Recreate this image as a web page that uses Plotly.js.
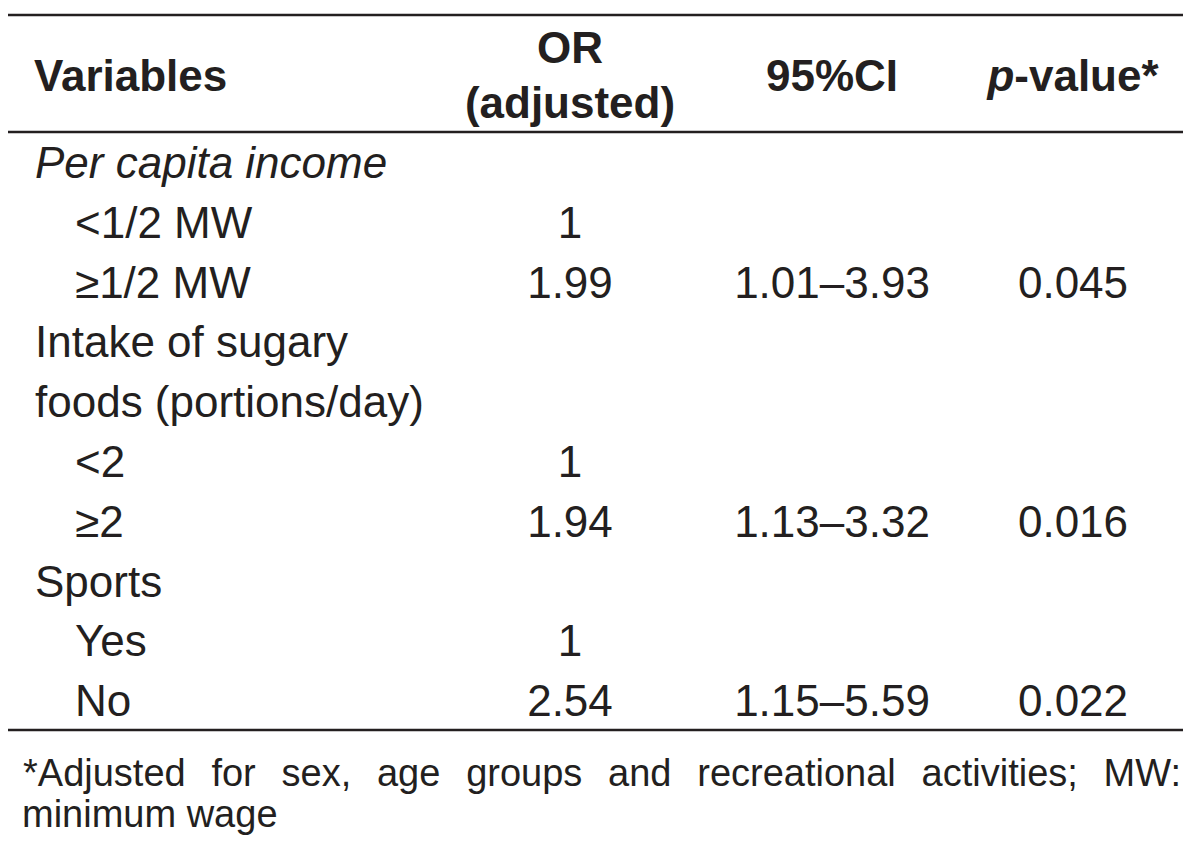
<!DOCTYPE html>
<html>
<head>
<meta charset="utf-8">
<script src="https://cdn.plot.ly/plotly-3.0.1.min.js"></script>
<style>html,body{margin:0;padding:0;background:#fff;}</style>
</head>
<body>
<div id="chart" style="width:1200px;height:854px;"></div>
<script>
// ---- data ----
const variables = ['<i>Per capita income</i>', '&lt;1/2 MW', '≥1/2 MW', 'Intake of sugary', 'foods (portions/day)', '&lt;2', '≥2', 'Sports', 'Yes', 'No'];
const levels = [0, 1, 1, 0, 0, 1, 1, 0, 1, 1];
const orAdjusted = ['', '1', '1.99', '', '', '1', '1.94', '', '1', '2.54'];
const ci95 = ['', '', '1.01–3.93', '', '', '', '1.13–3.32', '', '', '1.15–5.59'];
const pValues = ['', '', '0.045', '', '', '', '0.016', '', '', '0.022'];
const headerLabels = ['Variables', 'OR', '(adjusted)', '95%CI', '<i>p</i>-value*'];
const footnoteLines = ['*Adjusted for sex, age groups and recreational activities; MW:', 'minimum wage'];

// ---- layout constants (pixel space) ----
const W = 1200, H = 854;
const FS = 44, FN = 38;
const INK = '#231f20';
const FONT = '"Liberation Sans", Arial, Helvetica, sans-serif';
const SHIFT = 0.25; // scatter 'middle' text baseline offset (em)
const rowBase0 = 178, rowStep = 59.8;
const colX = {label0: 35, label1: 75, or: 570, ci: 832, p: 1073};

const rowY = variables.map((_, i) => rowBase0 + i * rowStep - SHIFT * FS);

function textTrace(x, y, text, pos, size) {
  return {
    type: 'scatter', mode: 'text', x: x, y: y, text: text,
    textposition: pos, hoverinfo: 'skip', cliponaxis: false,
    textfont: {family: FONT, size: size, color: INK}
  };
}

const traces = [
  textTrace(levels.map(l => l ? colX.label1 : colX.label0), rowY, variables, 'middle right', FS),
  textTrace(orAdjusted.map(() => colX.or), rowY, orAdjusted, 'middle center', FS),
  textTrace(ci95.map(() => colX.ci), rowY, ci95, 'middle center', FS),
  textTrace(pValues.map(() => colX.p), rowY, pValues, 'middle center', FS),
  // header
  textTrace([colX.label0 - 1], [91 - SHIFT * FS], ['<b>' + headerLabels[0] + '</b>'], 'middle right', FS),
  textTrace([colX.or, colX.or, colX.ci, colX.p],
            [63 - SHIFT * FS, 118 - SHIFT * FS, 91 - SHIFT * FS, 91 - SHIFT * FS],
            headerLabels.slice(1).map(t => '<b>' + t + '</b>'), 'middle center', FS),
  // footnote
  textTrace([23, 22], [786 - SHIFT * FN, 827 - SHIFT * FN], footnoteLines, 'middle right', FN)
];

const rule = y => ({type: 'line', xref: 'x', yref: 'y', x0: 8, x1: 1183, y0: y, y1: y,
                    line: {color: INK, width: 2.6}});

const layout = {
  width: W, height: H,
  margin: {l: 0, r: 0, t: 0, b: 0},
  paper_bgcolor: '#fff', plot_bgcolor: '#fff',
  showlegend: false,
  xaxis: {range: [0, W], visible: false, fixedrange: true},
  yaxis: {range: [H, 0], visible: false, fixedrange: true},
  shapes: [rule(15), rule(132), rule(730)]
};

Plotly.newPlot('chart', traces, layout, {displayModeBar: false, staticPlot: true}).then(() => {
  // justify the first footnote line like the original
  document.querySelectorAll('.textpoint text').forEach(t => {
    if (t.textContent.indexOf('*Adjusted') === 0) {
      const words = t.textContent.split(' ').length - 1;
      const natural = t.getComputedTextLength();
      const target = 1182 - 24;
      t.style.wordSpacing = ((target - natural) / words) + 'px';
    }
  });
});
</script>
</body>
</html>
